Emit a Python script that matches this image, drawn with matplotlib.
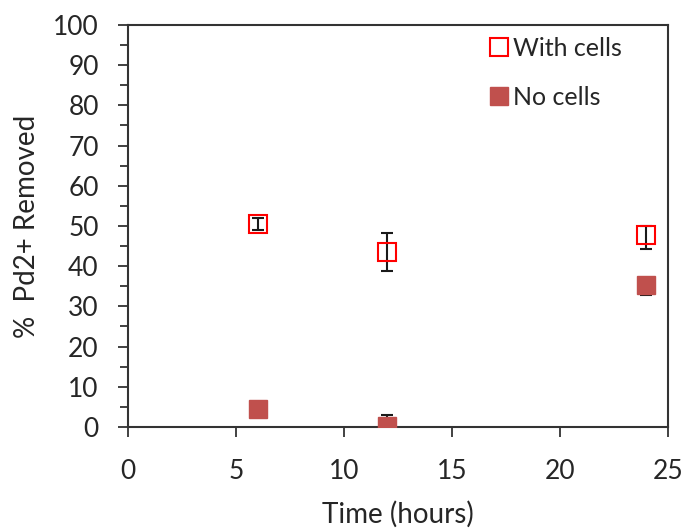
import matplotlib
matplotlib.use("Agg")
import matplotlib.pyplot as plt

plt.rcParams['font.family'] = ['Lato', 'DejaVu Sans']

time = [6, 12, 24]
with_cells = [50.5, 43.5, 47.8]
with_cells_err_low = [1.5, 4.8, 3.5]
with_cells_err_high = [1.5, 4.8, 2.3]
no_cells = [4.5, 0.3, 35.3]
no_cells_err_low = [0.5, 0.3, 2.5]
no_cells_err_high = [0.5, 2.7, 1.8]

TXT = '#262626'

fig = plt.figure(figsize=(6.88, 5.31), dpi=100)
ax = fig.add_axes([0.186, 0.196, 0.785, 0.757])

ax.errorbar(time, with_cells, yerr=[with_cells_err_low, with_cells_err_high],
            fmt='none', ecolor='#1a1a1a', elinewidth=1.5, capsize=4.5,
            capthick=1.5, zorder=2)
ax.plot(time, with_cells, linestyle='none', marker='s', markersize=12.5,
        markerfacecolor='none', markeredgecolor='#FF0000', markeredgewidth=1.5,
        label='With cells', zorder=3)
ax.errorbar(time, no_cells, yerr=[no_cells_err_low, no_cells_err_high],
            fmt='none', ecolor='#1a1a1a', elinewidth=1.5, capsize=4.5,
            capthick=1.5, zorder=2)
ax.plot(time, no_cells, linestyle='none', marker='s', markersize=13.5,
        markerfacecolor='#C0504D', markeredgecolor='#C0504D',
        label='No cells', zorder=3)

ax.set_xlim(0, 25)
ax.set_ylim(0, 100)
ax.set_xticks(range(0, 26, 5))
ax.set_yticks(range(0, 101, 10))
ax.set_yticks(range(5, 100, 10), minor=True)
ax.tick_params(axis='both', which='major', labelsize=19, length=7, width=1.3,
               color='#333333', labelcolor=TXT, direction='out')
ax.tick_params(axis='y', which='minor', length=6, width=1.3, color='#333333')
ax.tick_params(axis='x', pad=16)
ax.tick_params(axis='y', pad=14)
for s in ax.spines.values():
    s.set_color('#333333')
    s.set_linewidth(1.5)

ax.set_xlabel('Time (hours)', fontsize=20, color=TXT)
ax.set_ylabel('%  Pd2+ Removed', fontsize=20, color=TXT)
ax.xaxis.set_label_coords(0.5, -0.185)
ax.yaxis.set_label_coords(-0.163, 0.5)

ax.legend(loc='upper left', frameon=False, fontsize=18, handletextpad=0.05,
          handlelength=1.0, labelspacing=1.05, borderaxespad=0.0,
          bbox_to_anchor=(0.645, 0.995), labelcolor=TXT)

fig.savefig('out.png', dpi=100)
